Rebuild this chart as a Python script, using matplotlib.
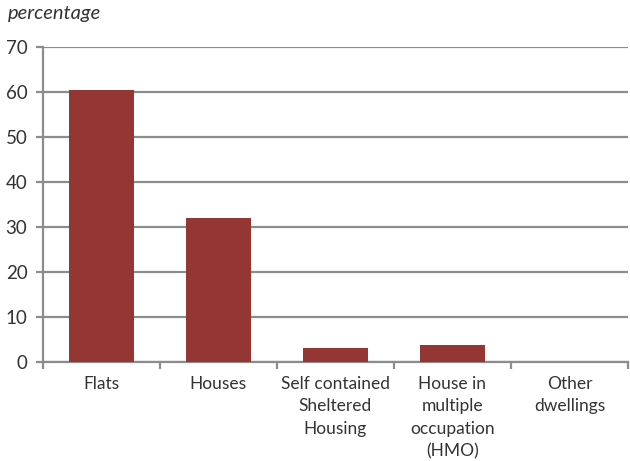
import matplotlib
matplotlib.use("Agg")
import matplotlib.pyplot as plt
import numpy as np

plt.rcParams['font.family'] = ['Lato', 'DejaVu Sans']

categories = ["Flats", "Houses", "Self contained\nSheltered\nHousing",
              "House in\nmultiple\noccupation\n(HMO)", "Other\ndwellings"]
values = [60.5, 32.0, 3.1, 3.7, 0.0]
yticks = [0, 10, 20, 30, 40, 50, 60, 70]

bar_color = "#943634"
grid_color = "#8c8c8c"
text_color = "#333333"

fig = plt.figure(figsize=(6.3, 4.61), dpi=100)
ax = fig.add_axes([0.0678, 0.2155, 0.9290, 0.6825])

x = np.arange(len(categories))
ax.bar(x, values, width=0.556, color=bar_color, zorder=3)

ax.set_xlim(-0.5, len(categories) - 0.5)
ax.set_ylim(0, 70)
ax.set_yticks(yticks)
ax.yaxis.grid(True, color=grid_color, linewidth=1.6, zorder=0)
ax.set_axisbelow(True)

for side in ("top", "right"):
    ax.spines[side].set_visible(False)
for side in ("left", "bottom"):
    ax.spines[side].set_color(grid_color)
    ax.spines[side].set_linewidth(1.6)

# category labels centred, tick marks at category boundaries
ax.set_xticks(np.arange(-0.5, len(categories) + 0.5, 1.0))
ax.set_xticklabels([])
ax.set_xticks(x, minor=True)
ax.set_xticklabels(categories, minor=True, fontsize=12.5, color=text_color,
                   linespacing=1.5, va="top")
ax.tick_params(axis="x", which="minor", length=0, pad=10)
ax.tick_params(axis="x", which="major", length=5, width=1.6, color=grid_color)
ax.tick_params(axis="y", length=5, width=1.6, color=grid_color,
               labelsize=13.5, labelcolor=text_color, pad=6)

fig.text(0.012, 0.97, "percentage", fontsize=14.5, style="italic",
         color=text_color, ha="left", va="center")

fig.savefig("out.png", dpi=100)
